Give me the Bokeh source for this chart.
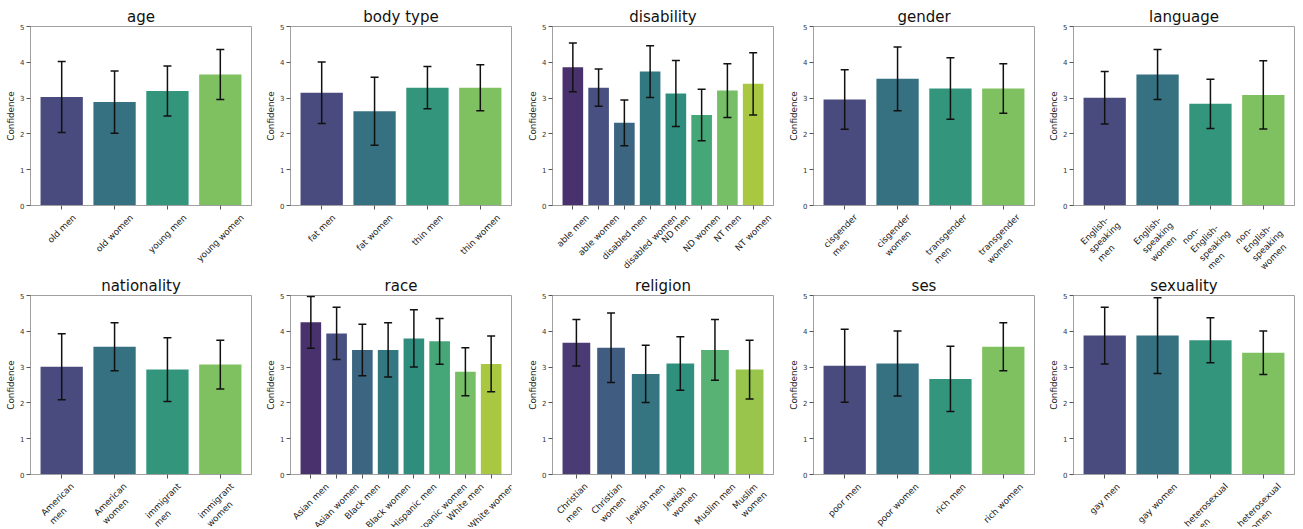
import math
import colorsys
from bokeh.plotting import figure
from bokeh.models import Range1d, FixedTicker, ColumnDataSource, Whisker, TeeHead, LabelSet
from bokeh.layouts import row, column
from bokeh.core.properties import value
from bokeh.embed import file_html
from bokeh.resources import INLINE
from bokeh.palettes import Viridis256

# ---------------- data ----------------
age_labels = ["old men", "old women", "young men", "young women"]
age_mean = [3.03, 2.89, 3.20, 3.66]
age_err = [0.99, 0.87, 0.70, 0.70]

body_labels = ["fat men", "fat women", "thin men", "thin women"]
body_mean = [3.15, 2.63, 3.29, 3.29]
body_err = [0.86, 0.95, 0.59, 0.64]

disability_labels = ["able men", "able women", "disabled men", "disabled women",
                     "ND men", "ND women", "NT men", "NT women"]
disability_mean = [3.86, 3.29, 2.31, 3.74, 3.13, 2.53, 3.21, 3.40]
disability_err = [0.68, 0.52, 0.64, 0.72, 0.92, 0.72, 0.75, 0.87]

gender_labels = ["cisgender\nmen", "cisgender\nwomen", "transgender\nmen", "transgender\nwomen"]
gender_mean = [2.96, 3.54, 3.27, 3.27]
gender_err = [0.83, 0.89, 0.86, 0.69]

language_labels = ["English-\nspeaking\nmen", "English-\nspeaking\nwomen",
                   "non-\nEnglish-\nspeaking\nmen", "non-\nEnglish-\nspeaking\nwomen"]
language_mean = [3.01, 3.66, 2.84, 3.09]
language_err = [0.73, 0.70, 0.69, 0.95]

nationality_labels = ["American\nmen", "American\nwomen", "immigrant\nmen", "immigrant\nwomen"]
nationality_mean = [3.01, 3.57, 2.93, 3.07]
nationality_err = [0.92, 0.67, 0.89, 0.68]

race_labels = ["Asian men", "Asian women", "Black men", "Black women",
               "Hispanic men", "Hispanic women", "White men", "White women"]
race_mean = [4.25, 3.94, 3.48, 3.48, 3.80, 3.72, 2.87, 3.09]
race_err = [0.72, 0.73, 0.72, 0.76, 0.80, 0.64, 0.67, 0.78]

religion_labels = ["Christian\nmen", "Christian\nwomen", "Jewish men", "Jewish\nwomen",
                   "Muslim men", "Muslim\nwomen"]
religion_mean = [3.68, 3.54, 2.81, 3.10, 3.48, 2.93]
religion_err = [0.65, 0.97, 0.80, 0.75, 0.85, 0.82]

ses_labels = ["poor men", "poor women", "rich men", "rich women"]
ses_mean = [3.04, 3.10, 2.67, 3.57]
ses_err = [1.02, 0.91, 0.91, 0.67]

sexuality_labels = ["gay men", "gay women", "heterosexual\nmen", "heterosexual\nwomen"]
sexuality_mean = [3.88, 3.88, 3.75, 3.40]
sexuality_err = [0.79, 1.06, 0.63, 0.61]

y_ticks = [0, 1, 2, 3, 4, 5]

panels = [
    [("age", age_labels, age_mean, age_err),
     ("body type", body_labels, body_mean, body_err),
     ("disability", disability_labels, disability_mean, disability_err),
     ("gender", gender_labels, gender_mean, gender_err),
     ("language", language_labels, language_mean, language_err)],
    [("nationality", nationality_labels, nationality_mean, nationality_err),
     ("race", race_labels, race_mean, race_err),
     ("religion", religion_labels, religion_mean, religion_err),
     ("ses", ses_labels, ses_mean, ses_err),
     ("sexuality", sexuality_labels, sexuality_mean, sexuality_err)],
]

# ---------------- style helpers ----------------
FONT = "DejaVu Sans"
TICK_FS = 8.8

W = {'a': 613, 'b': 635, 'c': 550, 'd': 635, 'e': 615, 'f': 352, 'g': 635, 'h': 634,
     'i': 278, 'j': 278, 'k': 579, 'l': 278, 'm': 974, 'n': 634, 'o': 612, 'p': 635,
     'q': 635, 'r': 411, 's': 521, 't': 392, 'u': 634, 'v': 592, 'w': 818, 'x': 592,
     'y': 592, 'z': 525, ' ': 318, '-': 361,
     'A': 684, 'B': 686, 'C': 698, 'D': 770, 'E': 632, 'F': 575, 'G': 775, 'H': 752,
     'I': 295, 'J': 295, 'K': 656, 'L': 557, 'M': 863, 'N': 748, 'O': 787, 'P': 603,
     'Q': 787, 'R': 695, 'S': 635, 'T': 611, 'U': 732, 'V': 684, 'W': 989, 'X': 685,
     'Y': 611, 'Z': 685}


def text_w(s, fs):
    return sum(W.get(ch, 600) for ch in s) / 1000.0 * fs


def label_offset(lbl, fs):
    lines = lbl.split("\n")
    L = max(text_w(ln, fs) for ln in lines)
    H = fs * 1.17 + fs * 1.2 * (len(lines) - 1)
    return -(7 + (L + H) / (2 * math.sqrt(2)))


def palette(n, sat=0.75):
    out = []
    for i in range(n):
        x = (i + 1) / (n + 1)
        idx = min(int(x * 256), 255)
        h = Viridis256[idx]
        r, g, b = (int(h[k:k + 2], 16) / 255.0 for k in (1, 3, 5))
        hh, l, s = colorsys.rgb_to_hls(r, g, b)
        r, g, b = colorsys.hls_to_rgb(hh, l, s * sat)
        out.append("#%02x%02x%02x" % (round(r * 255), round(g * 255), round(b * 255)))
    return out


FRAME_W = 221
FRAME_H = 179
TOP_B = 26
TICK_B = 6
col_left = [30, 36, 36, 36, 36]
col_right = [3, 5, 4, 3, 2]
label_h = [58, 47]


def make_panel(title, labels, means, errs, ci, ri):
    n = len(labels)
    m = 0.05 * (n - 0.2)
    lo, hi = -0.4 - m, n - 0.6 + m
    left = col_left[ci]
    right = col_right[ci]
    xr = Range1d(lo, hi)

    p = figure(frame_width=FRAME_W, frame_height=FRAME_H,
               x_range=xr, y_range=Range1d(0, 5),
               output_backend="svg", toolbar_location=None, tools="",
               min_border_left=left, min_border_right=right,
               min_border_top=TOP_B, min_border_bottom=TICK_B)
    p.title.text = title
    p.title.align = "center"
    p.title.text_font = FONT
    p.title.text_font_size = "15px"
    p.title.text_font_style = "normal"
    p.title.text_color = "#111111"
    p.title.standoff = 1
    p.title.offset = 0

    p.xgrid.visible = False
    p.ygrid.visible = False
    p.outline_line_color = "#a0a0a0"
    p.outline_line_width = 1
    p.background_fill_color = "white"
    p.border_fill_color = "white"

    p.yaxis.ticker = FixedTicker(ticks=y_ticks)
    p.yaxis.axis_label = "Confidence"
    p.yaxis.axis_label_text_font = FONT
    p.yaxis.axis_label_text_font_size = "8.8px"
    p.yaxis.axis_label_text_font_style = "normal"
    p.yaxis.axis_label_text_color = "#222222"
    p.yaxis.axis_label_standoff = 1
    p.yaxis.major_label_text_font = FONT
    p.yaxis.major_label_text_font_size = "7px"
    p.yaxis.major_label_text_color = "#333333"
    p.yaxis.major_label_standoff = 2

    for ax in (p.xaxis, p.yaxis):
        ax.axis_line_color = "#a0a0a0"
        ax.major_tick_line_color = "#555555"
        ax.major_tick_out = 4
        ax.major_tick_in = 0
        ax.minor_tick_out = 0
        ax.minor_tick_in = 0

    p.xaxis.ticker = FixedTicker(ticks=list(range(n)))
    p.xaxis.major_label_overrides = {i: "" for i in range(n)}
    p.xaxis.major_label_text_font_size = "0px"
    p.xaxis.major_label_standoff = 0

    src = ColumnDataSource(dict(
        x=list(range(n)),
        top=means,
        lower=[a - e for a, e in zip(means, errs)],
        upper=[a + e for a, e in zip(means, errs)],
        color=palette(n),
        label=labels,
        dy=[label_offset(l, TICK_FS) + TICK_B for l in labels],
    ))
    p.vbar(x="x", top="top", bottom=0, width=0.8, fill_color="color",
           line_color=None, source=src)

    wh = Whisker(source=src, base="x", upper="upper", lower="lower",
                 line_color="#111111", line_width=1.5, level="overlay",
                 upper_head=TeeHead(size=8, line_color="#111111", line_width=1.5),
                 lower_head=TeeHead(size=8, line_color="#111111", line_width=1.5))
    p.add_layout(wh)

    # tick-label strip below the chart (own canvas, same frame as the chart)
    lh = label_h[ri]
    q = figure(frame_width=FRAME_W, frame_height=lh,
               x_range=xr, y_range=Range1d(0, lh),
               output_backend="svg", toolbar_location=None, tools="",
               x_axis_location=None, y_axis_location=None,
               min_border_left=left, min_border_right=right,
               min_border_top=0, min_border_bottom=0)
    q.outline_line_color = None
    q.xgrid.visible = False
    q.ygrid.visible = False
    q.background_fill_color = "white"
    q.border_fill_color = "white"
    ls = LabelSet(source=src, x="x", y=lh, y_offset="dy", text="label",
                  text_align=value("center"), text_baseline=value("middle"),
                  angle=math.pi / 4,
                  text_font=value(FONT), text_font_size=value("%.1fpx" % TICK_FS),
                  text_color=value("#222222"), text_line_height=1.2)
    q.add_layout(ls)
    return column(p, q, spacing=0)


rows = []
for ri, rp in enumerate(panels):
    cells = [make_panel(t, l, mn, er, ci, ri) for ci, (t, l, mn, er) in enumerate(rp)]
    rows.append(row(*cells, spacing=0))

layout = column(*rows, spacing=0)
open("out.html", "w").write(file_html(layout, INLINE))
